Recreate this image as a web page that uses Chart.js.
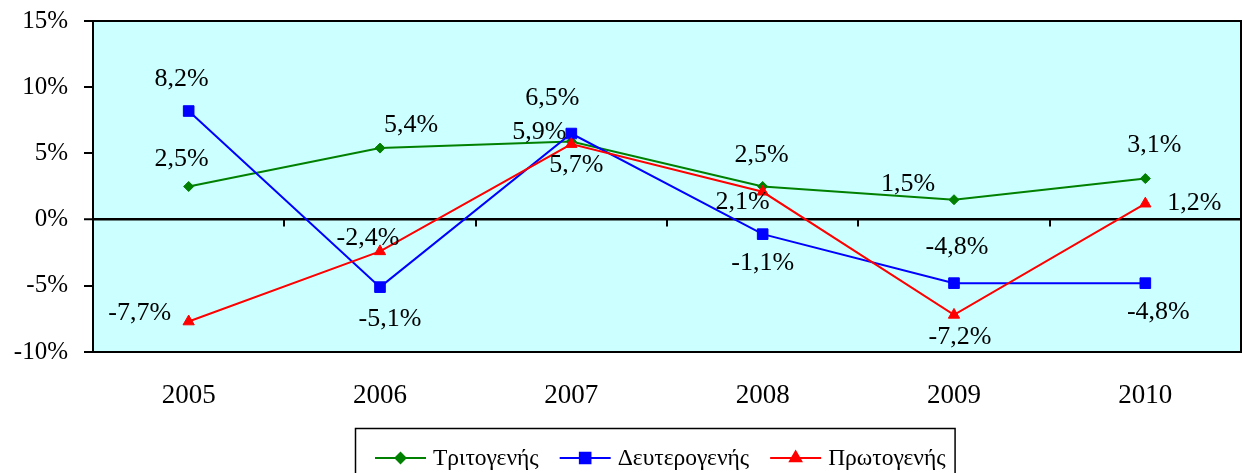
<!DOCTYPE html>
<html>
<head>
<meta charset="utf-8">
<script src="https://cdn.jsdelivr.net/npm/chart.js@4.4.0/dist/chart.umd.min.js"></script>
<style>
  html, body { margin: 0; padding: 0; background: #fff; }
</style>
</head>
<body>
<canvas id="growthChart" width="1243" height="473"></canvas>
<script>
const years = ["2005", "2006", "2007", "2008", "2009", "2010"];
const tertiary = [2.5, 5.4, 5.9, 2.5, 1.5, 3.1];
const secondary = [8.2, -5.1, 6.5, -1.1, -4.8, -4.8];
const primary = [-7.7, -2.4, 5.7, 2.1, -7.2, 1.2];
const yTicks = [-10, -5, 0, 5, 10, 15];

// where each value label sits, in px from its point
const tertiaryLabelPos = [[-7, -27], [31, -23], [-32, -9], [-1, -31], [-46, -16], [9, -33]];
const secondaryLabelPos = [[-7, -32], [10, 32], [-19, -35], [0, 29], [3, -36], [13, 29]];
const primaryLabelPos = [[-49, -8], [-12, -13], [5, 21], [-20, 10], [6, 22], [49, -1]];

const serif = '"Liberation Serif", "Times New Roman", serif';
Chart.defaults.font.family = serif;
Chart.defaults.color = "#000";

const fmt = v => v.toFixed(1).replace(".", ",") + "%";

const frame = {
  id: "frame",
  beforeDraw(chart) {
    const { ctx, chartArea: a } = chart;
    ctx.save();
    ctx.fillStyle = "#CCFFFF";
    ctx.fillRect(a.left, a.top, a.right - a.left, a.bottom - a.top);
    ctx.restore();
  },
  beforeDatasetsDraw(chart) {
    const { ctx, chartArea: a, scales } = chart;
    const x = scales.x, y0 = scales.y.getPixelForValue(0);
    const step = x.getPixelForValue(1) - x.getPixelForValue(0);
    ctx.save();
    ctx.strokeStyle = "#000";
    ctx.lineWidth = 2;
    for (let i = 1; i < years.length; i++) {
      const px = Math.round(x.getPixelForValue(i) - step / 2);
      ctx.beginPath();
      ctx.moveTo(px, y0);
      ctx.lineTo(px, y0 + 7);
      ctx.stroke();
    }
    ctx.strokeRect(a.left, a.top, a.right - a.left, a.bottom - a.top);
    ctx.restore();
  },
  afterDatasetsDraw(chart) {
    const { ctx } = chart;
    ctx.save();
    ctx.font = "26px " + serif;
    ctx.fillStyle = "#000";
    ctx.textAlign = "center";
    ctx.textBaseline = "middle";
    chart.data.datasets.forEach((ds, di) => {
      const meta = chart.getDatasetMeta(di);
      meta.data.forEach((pt, i) => {
        const [dx, dy] = ds.labelPos[i];
        ctx.fillText(fmt(ds.data[i]), pt.x + dx, pt.y + dy);
      });
    });
    ctx.restore();
  },
  afterDraw(chart) {
    // legend: line + marker + name, boxed
    const { ctx } = chart;
    ctx.save();
    ctx.font = "23.5px " + serif;
    ctx.textBaseline = "middle";
    ctx.textAlign = "left";
    let x = 375;
    const y = 458;
    chart.data.datasets.forEach(ds => {
      ctx.strokeStyle = ds.borderColor;
      ctx.lineWidth = 2;
      ctx.beginPath();
      ctx.moveTo(x, y);
      ctx.lineTo(x + 51, y);
      ctx.stroke();
      ctx.fillStyle = ds.borderColor;
      Chart.helpers.drawPoint(ctx, {
        pointStyle: ds.pointStyle, radius: ds.pointRadius, borderWidth: 1, rotation: 0
      }, x + 25.5, y);
      ctx.fill();
      ctx.fillStyle = "#000";
      ctx.fillText(ds.label, x + 58, y + 1);
      x += 58 + ctx.measureText(ds.label).width + 21;
    });
    ctx.strokeStyle = "#000";
    ctx.lineWidth = 1.5;
    ctx.strokeRect(355.5, 428.5, x - 21 + 9 - 355, 60);
    ctx.restore();
  }
};

new Chart(document.getElementById("growthChart"), {
  type: "line",
  data: {
    labels: years,
    datasets: [
      {
        label: "Τριτογενής",
        data: tertiary,
        labelPos: tertiaryLabelPos,
        borderColor: "#008000",
        backgroundColor: "#008000",
        pointStyle: "rectRot",
        pointRadius: 5,
        order: 3
      },
      {
        label: "Δευτερογενής",
        data: secondary,
        labelPos: secondaryLabelPos,
        borderColor: "#0000FF",
        backgroundColor: "#0000FF",
        pointStyle: "rect",
        pointRadius: 7.5,
        order: 2
      },
      {
        label: "Πρωτογενής",
        data: primary,
        labelPos: primaryLabelPos,
        borderColor: "#FF0000",
        backgroundColor: "#FF0000",
        pointStyle: "triangle",
        pointRadius: 6.5,
        order: 1
      }
    ]
  },
  options: {
    responsive: false,
    animation: false,
    elements: {
      line: { borderWidth: 2, tension: 0 },
      point: { borderWidth: 1, hoverRadius: 6 }
    },
    layout: { autoPadding: false, padding: { left: 0, top: 21, right: 2, bottom: 0 } },
    plugins: {
      legend: { display: false },
      tooltip: { enabled: false }
    },
    scales: {
      x: {
        offset: true,
        grid: { display: false, drawTicks: false },
        border: { display: false },
        ticks: { font: { size: 27 }, padding: 28 },
        afterFit: s => {
          s.height = 121;
          s.paddingLeft = 0;
          s.paddingRight = 0;
        }
      },
      y: {
        min: -10,
        max: 15,
        afterBuildTicks: s => { s.ticks = yTicks.map(v => ({ value: v })); },
        afterFit: s => {
          s.width = 93;
          s.paddingTop = 0;
          s.paddingBottom = 0;
        },
        grid: {
          color: c => c.tick && c.tick.value === 0 ? "#000" : "rgba(0,0,0,0)",
          lineWidth: c => c.tick && c.tick.value === 0 ? 2.5 : 0,
          tickColor: "#000",
          tickLength: 9,
          tickWidth: 2
        },
        border: { display: true, color: "#000", width: 2 },
        ticks: {
          font: { size: 25 },
          padding: 16,
          callback: v => v + "%"
        }
      }
    }
  },
  plugins: [frame]
});
</script>
</body>
</html>
